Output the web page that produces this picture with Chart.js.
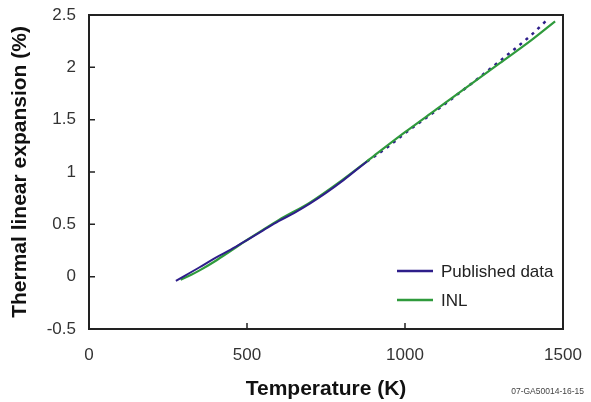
<!DOCTYPE html>
<html>
<head>
<meta charset="utf-8">
<script src="https://cdn.jsdelivr.net/npm/chart.js@4/dist/chart.umd.min.js"></script>
<style>
  html, body { margin: 0; padding: 0; background: #fff; }
  #wrap { width: 591px; height: 402px; }
</style>
</head>
<body>
<div id="wrap"><canvas id="expChart" width="591" height="402"></canvas></div>
<script>
// published data, measured range (solid)
const pubTemp = [275, 350, 400, 450, 500, 550, 600, 650, 700, 750, 800, 850, 880];
const pubExp  = [-0.04, 0.09, 0.18, 0.26, 0.35, 0.44, 0.53, 0.61, 0.70, 0.80, 0.91, 1.03, 1.10];
// published data, extrapolated (dotted)
const extTemp = [880, 950, 1000, 1100, 1200, 1300, 1400, 1455];
const extExp  = [1.10, 1.25, 1.37, 1.59, 1.82, 2.06, 2.31, 2.47];
// INL
const inlTemp = [290, 325, 350, 400, 450, 500, 600, 700, 800, 900, 1000, 1100, 1200, 1300, 1400, 1475];
const inlExp  = [-0.03, 0.02, 0.06, 0.15, 0.25, 0.35, 0.54, 0.71, 0.92, 1.15, 1.38, 1.60, 1.82, 2.04, 2.26, 2.44];

const xTicks = [0, 500, 1000, 1500];
const yTicks = [-0.5, 0, 0.5, 1, 1.5, 2, 2.5];

const BLUE = "#2e1e8a";
const GREEN = "#2f9a3c";
const FONT = "'Liberation Sans', Arial, sans-serif";

const pts = (xs, ys) => xs.map((x, i) => ({ x, y: ys[i] }));

// frame + inner tick marks
const framePlugin = {
  id: "frame",
  afterDatasetsDraw(chart) {
    const { ctx, chartArea: a, scales } = chart;
    ctx.save();
    ctx.strokeStyle = "#222";
    ctx.lineWidth = 2;
    ctx.strokeRect(a.left, a.top, a.right - a.left, a.bottom - a.top);
    ctx.lineWidth = 1.5;
    ctx.beginPath();
    xTicks.forEach((v) => {
      const px = scales.x.getPixelForValue(v);
      ctx.moveTo(px, a.bottom);
      ctx.lineTo(px, a.bottom - 6);
    });
    yTicks.forEach((v) => {
      const py = scales.y.getPixelForValue(v);
      ctx.moveTo(a.left, py);
      ctx.lineTo(a.left + 6, py);
    });
    ctx.stroke();
    ctx.restore();
  },
};

// legend inside the plot, lower right
const legendPlugin = {
  id: "innerLegend",
  afterDraw(chart) {
    const { ctx, chartArea: a } = chart;
    const items = chart.data.datasets.filter((d) => d.showInLegend);
    ctx.save();
    ctx.font = "17px " + FONT;
    ctx.textBaseline = "middle";
    ctx.fillStyle = "#222";
    items.forEach((d, i) => {
      const y = a.bottom - 58 + i * 29;
      ctx.strokeStyle = d.borderColor;
      ctx.lineWidth = 2.5;
      ctx.beginPath();
      ctx.moveTo(a.right - 166, y);
      ctx.lineTo(a.right - 130, y);
      ctx.stroke();
      ctx.fillText(d.label, a.right - 122, y + 1);
    });
    // figure id
    ctx.font = "8.5px " + FONT;
    ctx.fillStyle = "#444";
    ctx.textAlign = "right";
    ctx.fillText("07-GA50014-16-15", 584, 392);
    ctx.restore();
  },
};

new Chart(document.getElementById("expChart"), {
  type: "line",
  data: {
    datasets: [
      {
        label: "Published data",
        data: pts(pubTemp, pubExp),
        borderColor: BLUE,
        borderWidth: 2,
        pointRadius: 0,
        cubicInterpolationMode: "monotone",
        showInLegend: true,
      },
      {
        label: "INL",
        data: pts(inlTemp, inlExp),
        borderColor: GREEN,
        borderWidth: 2.2,
        pointRadius: 0,
        cubicInterpolationMode: "monotone",
        showInLegend: true,
      },
      {
        label: "Published (extrapolated)",
        data: pts(extTemp, extExp),
        borderColor: BLUE,
        borderWidth: 2.5,
        borderDash: [3, 5],
        pointRadius: 0,
        cubicInterpolationMode: "monotone",
      },
    ],
  },
  options: {
    responsive: false,
    animation: false,
    layout: { padding: { top: 15, right: 28, left: 0, bottom: 0 } },
    plugins: { legend: { display: false }, tooltip: { enabled: false } },
    scales: {
      x: {
        type: "linear",
        min: 0,
        max: 1500,
        afterFit: (s) => {
          s.height = 73;
          s.paddingLeft = 0;
          s.paddingRight = 0;
        },
        afterBuildTicks: (s) => { s.ticks = xTicks.map((v) => ({ value: v })); },
        ticks: {
          autoSkip: false,
          maxRotation: 0,
          padding: 16,
          color: "#333",
          font: { family: FONT, size: 17 },
          callback: (v) => String(v),
        },
        grid: { drawOnChartArea: false, drawTicks: false },
        border: { display: false },
        title: {
          display: true,
          text: "Temperature (K)",
          color: "#111",
          font: { family: FONT, size: 21, weight: "bold" },
          padding: { top: 0, bottom: 0 },
        },
      },
      y: {
        type: "linear",
        min: -0.5,
        max: 2.5,
        afterFit: (s) => {
          s.width = 89;
          s.paddingTop = 0;
          s.paddingBottom = 0;
        },
        afterBuildTicks: (s) => { s.ticks = yTicks.map((v) => ({ value: v })); },
        ticks: {
          padding: 13,
          color: "#333",
          font: { family: FONT, size: 17 },
          callback: (v) => String(v),
        },
        grid: { drawOnChartArea: false, drawTicks: false },
        border: { display: false },
        title: {
          display: true,
          text: "Thermal linear expansion (%)",
          color: "#111",
          font: { family: FONT, size: 21, weight: "bold" },
          padding: { top: 8, bottom: 0 },
        },
      },
    },
  },
  plugins: [framePlugin, legendPlugin],
});
</script>
</body>
</html>
